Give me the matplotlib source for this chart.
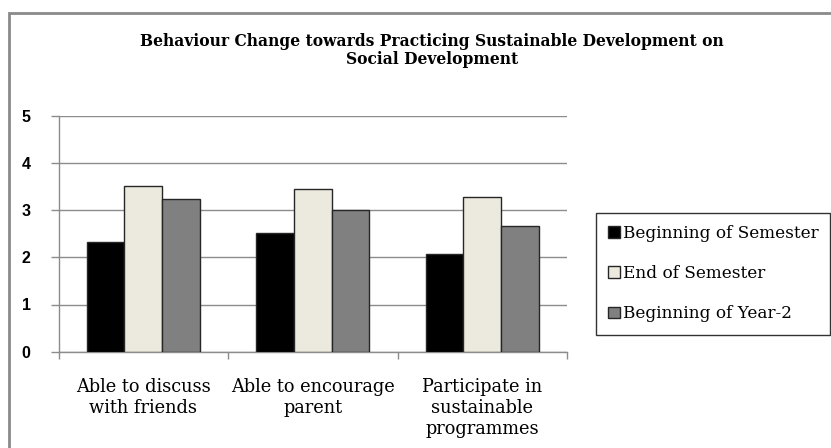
import matplotlib
matplotlib.use("Agg")
import matplotlib.pyplot as plt
from matplotlib.patches import Rectangle, Patch
import numpy as np

categories = ["Able to discuss\nwith friends", "Able to encourage\nparent",
              "Participate in\nsustainable\nprogrammes"]
series_names = ["Beginning of Semester", "End of Semester", "Beginning of Year-2"]
beginning_semester = [2.32, 2.51, 2.07]
end_semester = [3.50, 3.45, 3.28]
beginning_year2 = [3.23, 3.00, 2.66]
y_ticks = [0, 1, 2, 3, 4, 5]

series_values = [beginning_semester, end_semester, beginning_year2]
colors = ["#000000", "#ECEADF", "#808080"]

plt.rcParams["font.family"] = ["DejaVu Serif"]

W, H = 831, 448
fig = plt.figure(figsize=(W / 100, H / 100), dpi=100)

# outer chart frame
frame = Rectangle((9 / W, -0.05), 1.2, 1 - 13.5 / H + 0.05, transform=fig.transFigure,
                  fill=False, edgecolor="#8a8a8a", linewidth=2.0)
fig.patches.append(frame)

left, right = 58.5 / W, 567 / W
bottom, top = 1 - 351.7 / H, 1 - 115.7 / H
ax = fig.add_axes([left, bottom, right - left, top - bottom])

n = len(series_values)
bar_w = 1 / (n + 1.5)
x = np.arange(len(categories))
for i, (vals, c) in enumerate(zip(series_values, colors)):
    offs = (i - (n - 1) / 2) * bar_w
    ax.bar(x + offs, vals, width=bar_w, color=c, edgecolor="#262626",
           linewidth=1.0, zorder=3, label=series_names[i])

ax.set_xlim(-0.5, len(categories) - 0.5)
ax.set_ylim(0, 5)
ax.set_yticks(y_ticks)
ax.set_yticklabels([str(t) for t in y_ticks], fontsize=11.5, fontweight="bold",
                   family="Liberation Sans")
ax.yaxis.grid(True, color="#8c8c8c", linewidth=1.0, zorder=0)
ax.set_axisbelow(True)

# category boundaries as major ticks, labels at centers as minor ticks
ax.set_xticks(np.arange(len(categories) + 1) - 0.5)
ax.set_xticklabels([])
ax.set_xticks(x, minor=True)
ax.set_xticklabels(categories, minor=True, fontsize=12.8, linespacing=1.22)
ax.tick_params(axis="x", which="minor", length=0, pad=19)
ax.tick_params(axis="x", which="major", length=5, color="#8c8c8c", width=1)
ax.tick_params(axis="y", length=6, color="#8c8c8c", width=1, pad=14)

for s in ["top", "right"]:
    ax.spines[s].set_visible(False)
for s in ["left", "bottom"]:
    ax.spines[s].set_color("#8c8c8c")
    ax.spines[s].set_linewidth(1.0)

fig.text(432 / W, 1 - 41 / H, "Behaviour Change towards Practicing Sustainable Development on",
         ha="center", va="center", fontsize=11.2, fontweight="bold")
fig.text(432 / W, 1 - 59.5 / H, "Social Development",
         ha="center", va="center", fontsize=11.2, fontweight="bold")

handles = [Patch(facecolor=c, edgecolor="#262626", linewidth=1.0) for c in colors]
leg = fig.legend(handles, series_names, loc="upper left",
                 bbox_to_anchor=(596 / W, 1 - 212.5 / H),
                 bbox_transform=fig.transFigure,
                 fontsize=12.2, frameon=True, fancybox=False,
                 handlelength=0.7, handleheight=0.7, handletextpad=0.15,
                 labelspacing=1.38, borderpad=0.72, borderaxespad=0)
leg.get_frame().set_edgecolor("#000000")
leg.get_frame().set_linewidth(1.0)

fig.savefig("out.png", dpi=100)
